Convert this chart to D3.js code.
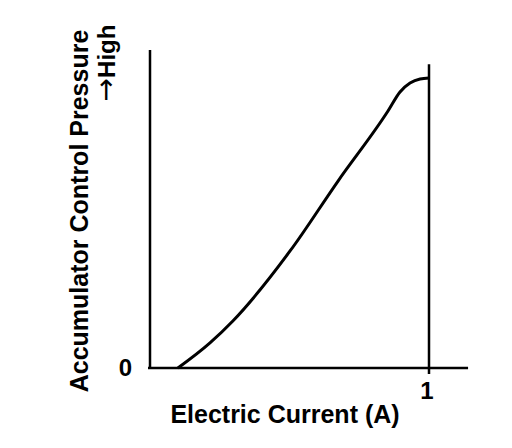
<!DOCTYPE html>
<html>
<head>
<meta charset="utf-8">
<script src="https://cdn.jsdelivr.net/npm/d3@7"></script>
<style>
  body { margin: 0; background: #fff; }
  text { font-family: "Liberation Sans", Arial, sans-serif; font-weight: bold; fill: #000; }
</style>
</head>
<body>
<div id="myChart"></div>
<script>
// current (A) vs relative accumulator control pressure
var current = [0.10, 0.215, 0.297, 0.502, 0.674, 0.853, 0.896, 0.932, 0.968, 1.0];
var pressure = [0, 0.079, 0.148, 0.368, 0.588, 0.808, 0.868, 0.896, 0.909, 0.912];
var xTicks = [1];
var yTicks = [0];
var xLabel = "Electric Current (A)";
var yLabel = "Accumulator Control Pressure";
var yLabel2 = "High";

var width = 512, height = 448;

var x = d3.scaleLinear().domain([0, 1]).range([150, 429]);
var y = d3.scaleLinear().domain([0, 1]).range([368, 50]);

var svg = d3.select("#myChart")
  .append("svg")
    .attr("width", width)
    .attr("height", height);

// axes
svg.append("line")
  .attr("x1", x(0)).attr("x2", x(0))
  .attr("y1", y(0)).attr("y2", y(1))
  .attr("stroke", "black").attr("stroke-width", 2.5);
svg.append("line")
  .attr("x1", x(0) - 2).attr("x2", x(1.14))
  .attr("y1", y(0)).attr("y2", y(0))
  .attr("stroke", "black").attr("stroke-width", 2.5);

// vertical line at 1 A
svg.selectAll(".vline")
  .data(xTicks)
  .enter()
  .append("line")
    .attr("x1", function(d){ return x(d); })
    .attr("x2", function(d){ return x(d); })
    .attr("y1", y(0.955))
    .attr("y2", y(0) + 6)
    .attr("stroke", "black").attr("stroke-width", 2.5);

// tick labels
svg.selectAll(".xt")
  .data(xTicks)
  .enter()
  .append("text")
    .attr("x", function(d){ return x(d) - 2; })
    .attr("y", y(0) + 31)
    .attr("text-anchor", "middle")
    .style("font-size", "24px")
    .text(function(d){ return d; });

svg.selectAll(".yt")
  .data(yTicks)
  .enter()
  .append("text")
    .attr("x", x(0) - 18)
    .attr("y", function(d){ return y(d) + 8; })
    .attr("text-anchor", "end")
    .style("font-size", "24px")
    .text(function(d){ return d; });

// axis titles
svg.append("text")
  .attr("x", 285)
  .attr("y", 423)
  .attr("text-anchor", "middle")
  .style("font-size", "25px")
  .text(xLabel);

svg.append("text")
  .attr("transform", "translate(88,211) rotate(-90)")
  .attr("text-anchor", "middle")
  .style("font-size", "25px")
  .text(yLabel);

var hi = svg.append("text")
  .attr("transform", "translate(115,63) rotate(-90)")
  .attr("text-anchor", "middle")
  .style("font-size", "24px");
hi.append("tspan")
  .style("font-family", "DejaVu Sans")
  .style("font-weight", "normal")
  .style("font-size", "28px")
  .text("\u2192");
hi.append("tspan").text(yLabel2);

// the curve
var pts = current.map(function(d, i){ return [d, pressure[i]]; });
svg.append("path")
  .datum(pts)
  .attr("d", d3.line()
    .x(function(d){ return x(d[0]); })
    .y(function(d){ return y(d[1]); })
    .curve(d3.curveMonotoneX))
  .attr("fill", "none")
  .attr("stroke", "black")
  .attr("stroke-width", 3);
</script>
</body>
</html>
